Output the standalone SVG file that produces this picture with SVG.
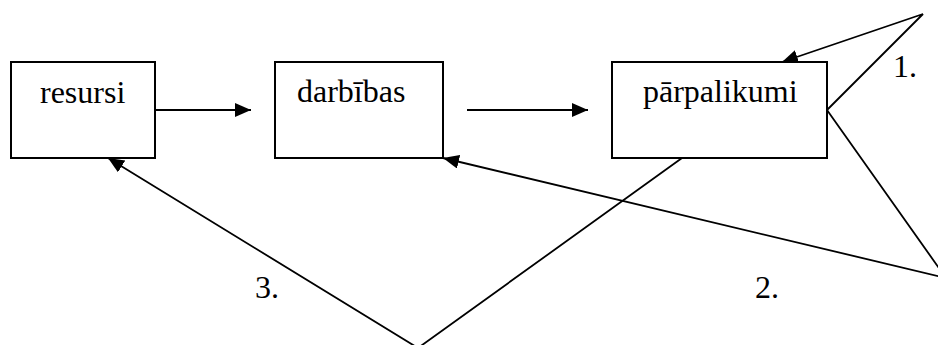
<svg xmlns="http://www.w3.org/2000/svg" width="938" height="345" viewBox="0 0 938 345">
<style>
.box{fill:#fff;stroke:#000;stroke-width:2}
.lbl{font-family:"Liberation Serif","Times New Roman",serif;font-size:32px;fill:#000}
.ln{fill:none;stroke:#000;stroke-width:1.8;marker-end:url(#ah)}
</style>
<defs>
<marker id="ah" markerUnits="userSpaceOnUse" markerWidth="17" markerHeight="15" refX="16" refY="7" orient="auto">
<path d="M0,0 L16,7 L0,14 z" fill="#000"/>
</marker>
</defs>
<rect width="938" height="345" fill="#fff"/>
<g id="connectors">
<line class="ln" x1="155" y1="110" x2="251" y2="110"/>
<line class="ln" x1="467" y1="110" x2="588" y2="110"/>
<polyline class="ln" points="827,110 923,14 782,62"/>
<polyline class="ln" points="827,110 946,278 443,158"/>
<polyline class="ln" points="682,158 418,348 108,158"/>
</g>
<g id="node-resursi">
<rect class="box" x="11" y="62" width="144" height="96"/>
<text class="lbl" x="40" y="103">resursi</text>
</g>
<g id="node-darbibas">
<rect class="box" x="275" y="62" width="168" height="96"/>
<text class="lbl" x="297" y="102">darbības</text>
</g>
<g id="node-parpalikumi">
<rect class="box" x="612" y="62" width="215" height="96"/>
<text class="lbl" x="643" y="102">pārpalikumi</text>
</g>
<g id="labels">
<text class="lbl" x="893" y="77">1.</text>
<text class="lbl" x="755" y="298">2.</text>
<text class="lbl" x="255" y="298">3.</text>
</g>
</svg>
